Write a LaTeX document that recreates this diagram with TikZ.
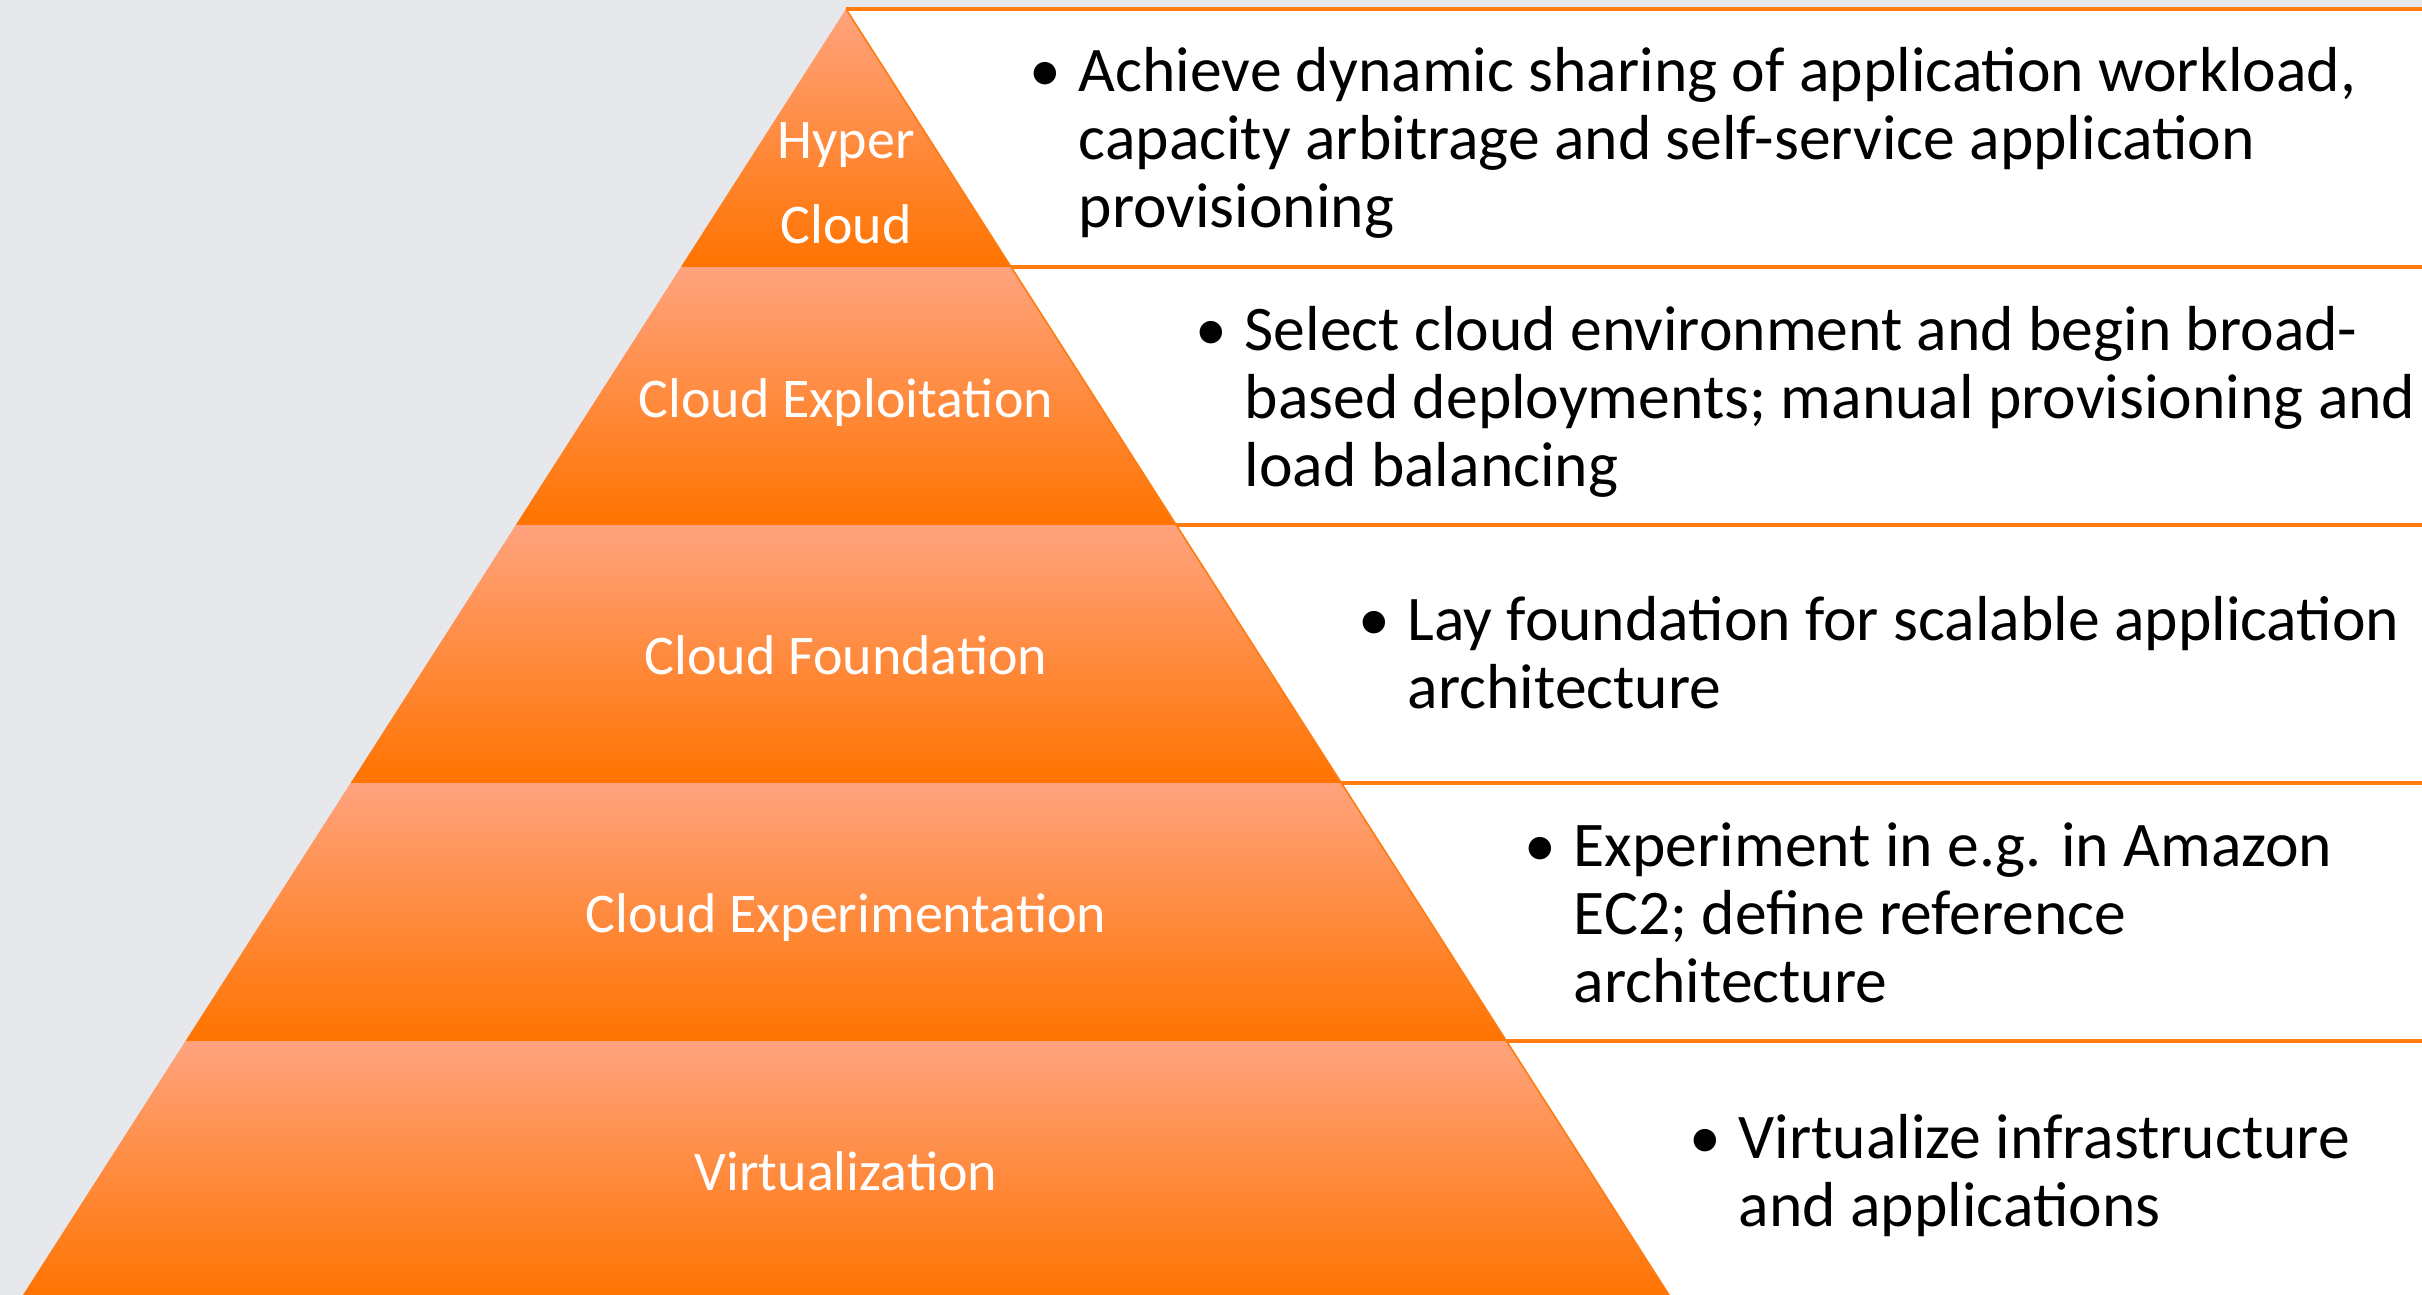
\documentclass[tikz,border=0pt]{standalone}
\usepackage{fontspec}
\setmainfont{Carlito}
\definecolor{bggray}{RGB}{231,232,236}
\definecolor{bandtop}{RGB}{255,163,126}
\definecolor{bandbot}{RGB}{255,115,0}
\definecolor{lineor}{RGB}{255,124,16}
\begin{document}
\begin{tikzpicture}[x=0.25pt,y=-0.25pt,
  band/.style={top color=bandtop,bottom color=bandbot,draw=none},
  lbl/.style={anchor=base,inner sep=0,text=white,font=\fontsize{14}{17}\selectfont},
  desc/.style={anchor=base west,inner sep=0,text=black,font=\fontsize{15.9}{17}\selectfont},
  sepline/.style={draw=lineor,line width=0.8pt},
  edgeline/.style={draw=lineor,line width=0.4pt}]
\useasboundingbox (0,0) rectangle (2422,1295);
\clip (0,0) rectangle (2422,1295);
% coordinates
\coordinate (apex) at (846,9);
\coordinate (L1) at (680.9,267);  \coordinate (R1) at (1011.1,267);
\coordinate (L2) at (515.8,525);  \coordinate (R2) at (1176.2,525);
\coordinate (L3) at (350.6,783);  \coordinate (R3) at (1341.4,783);
\coordinate (L4) at (185.5,1041); \coordinate (R4) at (1506.5,1041);
\coordinate (L5) at (20.4,1299);  \coordinate (R5) at (1671.6,1299);
\coordinate (E0) at (2430,9);
\coordinate (E1) at (2430,267);
\coordinate (E2) at (2430,525);
\coordinate (E3) at (2430,783);
\coordinate (E4) at (2430,1041);
\coordinate (E5) at (2430,1299);
% background
\fill[bggray] (0,0) rectangle (2422,1295);
\fill[white] (apex) -- (E0) -- (E5) -- (R5) -- cycle;
% bands
\shade[band] (apex) -- (R1) -- (L1) -- cycle;
\shade[band] (L1) -- (R1) -- (R2) -- (L2) -- cycle;
\shade[band] (L2) -- (R2) -- (R3) -- (L3) -- cycle;
\shade[band] (L3) -- (R3) -- (R4) -- (L4) -- cycle;
\shade[band] (L4) -- (R4) -- (R5) -- (L5) -- cycle;
% lines
\draw[edgeline] (apex) -- (R5);
\draw[sepline] (apex) -- (E0);
\draw[sepline] (R1) -- (E1);
\draw[sepline] (R2) -- (E2);
\draw[sepline] (R3) -- (E3);
\draw[sepline] (R4) -- (E4);
% labels
\node[lbl] (hyper) at (846,158) {Hyper};
\node[lbl] (hcloud) at (846,243) {Cloud};
\node[lbl] (exploit) at (846,417) {Cloud Exploitation};
\node[lbl] (found) at (846,674) {Cloud Foundation};
\node[lbl] (exper) at (846,932) {Cloud Experimentation};
\node[lbl] (virt) at (846,1190) {Virtualization};
% descriptions
\node[desc] (d1) at (1078,92) {\begin{tabular}[t]{@{}l@{}}\llap{\textbullet\hspace{4.5pt}}Achieve dynamic sharing of application workload,\\capacity arbitrage and self-service application\\provisioning\end{tabular}};
\node[desc] (d2) at (1244,350) {\begin{tabular}[t]{@{}l@{}}\llap{\textbullet\hspace{4.5pt}}Select cloud environment and begin broad-\\based deployments; manual provisioning and\\load balancing\end{tabular}};
\node[desc] (d3) at (1407,640) {\begin{tabular}[t]{@{}l@{}}\llap{\textbullet\hspace{4.5pt}}Lay foundation for scalable application\\architecture\end{tabular}};
\node[desc] (d4) at (1573,866) {\begin{tabular}[t]{@{}l@{}}\llap{\textbullet\hspace{4.5pt}}Experiment in e.g. in Amazon\\EC2; define reference\\architecture\end{tabular}};
\node[desc] (d5) at (1738,1158) {\begin{tabular}[t]{@{}l@{}}\llap{\textbullet\hspace{4.5pt}}Virtualize infrastructure\\and applications\end{tabular}};
\end{tikzpicture}
\end{document}
